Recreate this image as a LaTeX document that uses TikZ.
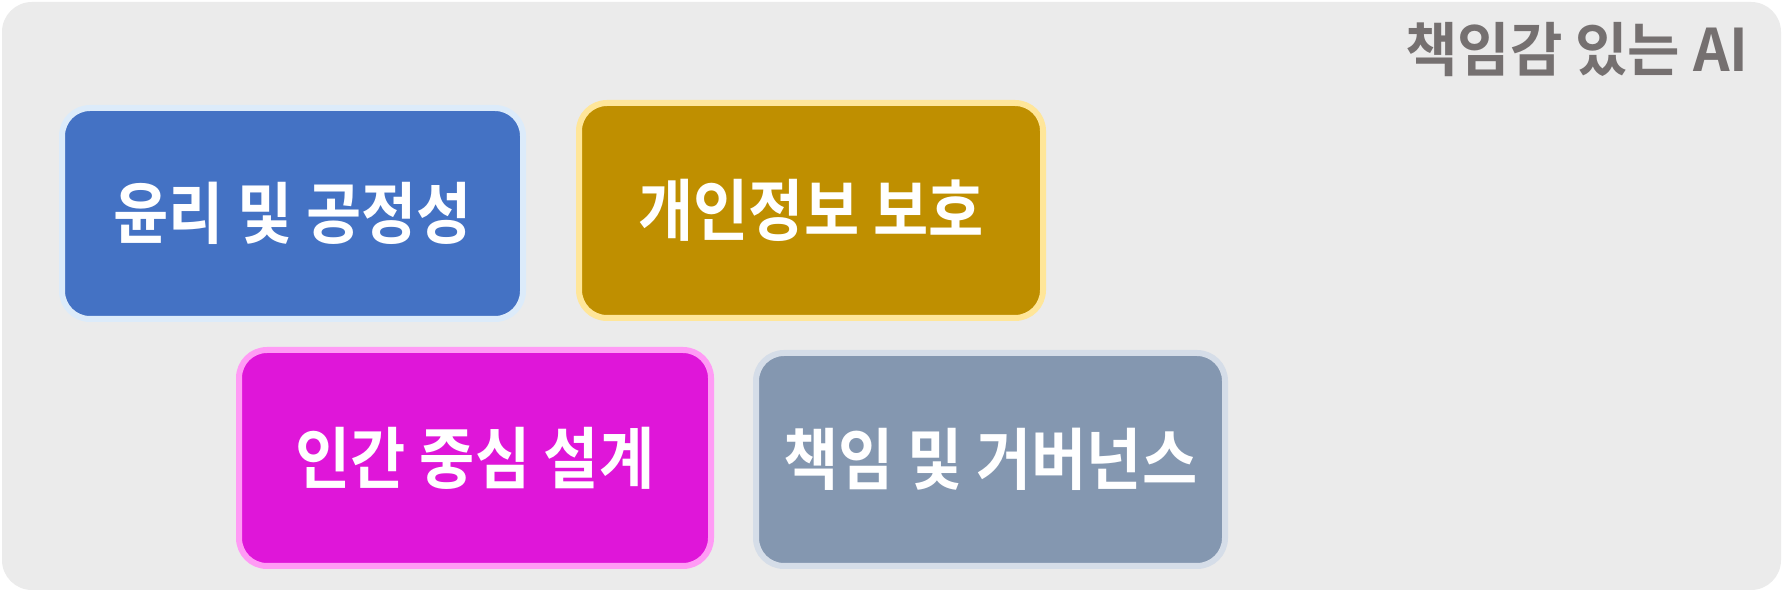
\documentclass[tikz,border=0pt]{standalone}
\usepackage{graphicx}
\usepackage{fontspec}
\setmainfont{Noto Sans CJK KR}
\newfontfamily\krbold{Noto Sans CJK KR Bold}
\newcommand\talltext[1]{\scalebox{1}[1.12]{#1}}
\definecolor{bgc}{HTML}{EBEBEB}
\definecolor{titlec}{HTML}{757070}
\definecolor{bluef}{HTML}{4472C4}
\definecolor{blueb}{HTML}{DCEBFA}
\definecolor{goldf}{HTML}{BF8F00}
\definecolor{goldb}{HTML}{FFE699}
\definecolor{magf}{HTML}{DF16D9}
\definecolor{magb}{HTML}{FF9BF5}
\definecolor{grayf}{HTML}{8497B0}
\definecolor{grayb}{HTML}{D5DDE8}
\tikzset{
  card/.style={rounded corners=14pt, line width=3pt, text=white,
    font=\krbold\fontsize{30pt}{36pt}\selectfont, inner sep=0pt, outer sep=0pt, align=center},
}
\begin{document}
\begin{tikzpicture}[x=0.5pt,y=-0.5pt]
  \useasboundingbox (0,0) rectangle (1783,592);
  \fill[white] (0,0) rectangle (1783,592);
  \fill[bgc, rounded corners=15pt] (2,2) rectangle (1781,590);
  \node[anchor=east, text=titlec, font=\krbold\fontsize{28.5pt}{34pt}\selectfont, inner sep=0pt] (title) at (1749,50) {\scalebox{1}[1.03]{책임감 있는 AI}};
  \node[card, fill=bluef, draw=blueb, minimum width=230.5pt, minimum height=105.5pt] (ethics) at (292.5,213.5) {\talltext{윤리 및 공정성}};
  \node[card, fill=goldf, draw=goldb, minimum width=232pt, minimum height=107.5pt] (privacy) at (811,210.5) {\talltext{개인정보 보호}};
  \node[card, fill=magf, draw=magb, minimum width=236pt, minimum height=108pt] (human) at (475,458) {\talltext{인간 중심 설계}};
  \node[card, fill=grayf, draw=grayb, minimum width=234.5pt, minimum height=106.5pt] (govern) at (990.5,459.5) {\talltext{책임 및 거버넌스}};
\end{tikzpicture}
\end{document}
